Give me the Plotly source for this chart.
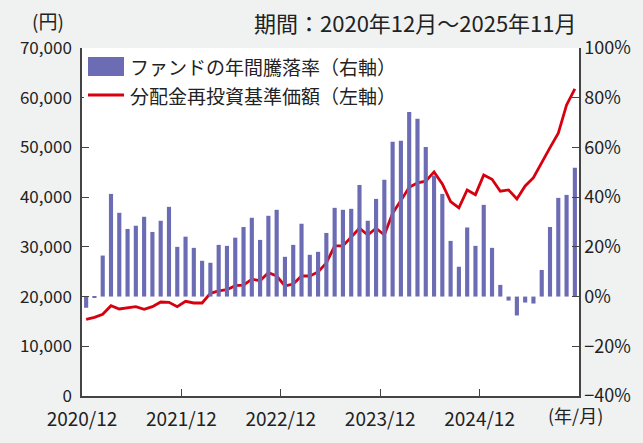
import plotly.graph_objects as go

# ---- data ----
months = list(range(60))  # 2020/12 .. 2025/11
returns_pct = [
    -4.5, -0.4, 16.5, 41.3, 33.7, 27.2, 28.5, 32.1, 26.0, 30.5,
    36.1, 20.0, 24.1, 19.6, 14.4, 13.6, 20.8, 20.4, 23.7, 28.0,
    31.7, 22.8, 32.5, 34.9, 16.0, 20.8, 29.3, 16.8, 18.0, 25.6,
    35.7, 34.9, 35.3, 44.9, 30.5, 39.3, 47.0, 62.3, 62.7, 74.3,
    71.5, 60.2, 48.7, 41.3, 22.4, 12.0, 27.8, 20.4, 36.9, 19.6,
    4.7, -1.6, -7.6, -2.4, -2.8, 10.7, 28.0, 39.7, 40.9, 51.8,
]
nav = [
    15430, 15830, 16440, 18170, 17500, 17770, 17970, 17440, 17970, 18910,
    18850, 17970, 19050, 18710, 18710, 20660, 21130, 21390, 22190, 22300,
    23500, 23200, 24810, 24140, 22130, 22530, 24140, 24140, 24950, 26760,
    30180, 30180, 31930, 33740, 32390, 33740, 32390, 36760, 39300, 41990,
    42860, 43200, 45070, 42660, 39100, 37830, 41450, 40500, 44470, 43600,
    41190, 41450, 39640, 42250, 43920, 47080, 49960, 52860, 58550, 61800,
]
x_tick_pos = [-0.5, 11.5, 23.5, 35.5, 47.5]
x_tick_text = ["2020/12", "2021/12", "2022/12", "2023/12", "2024/12"]
bar_name = "ファンドの年間騰落率（右軸）"
line_name = "分配金再投資基準価額（左軸）"

BAR_COLOR = "#6C6CB4"
LINE_COLOR = "#D7000F"
AXIS_COLOR = "#444444"
TEXT_COLOR = "#222222"
FONT = "Noto Sans CJK JP"

W, H = 643, 443
L, R, T, B = 82, 64, 48, 47
PW, PH = W - L - R, H - T - B

def px(x):
    return (x - L) / PW

def py(y):
    return (H - B - y) / PH

fig = go.Figure()
fig.add_trace(go.Bar(
    x=months, y=returns_pct, yaxis="y2", name=bar_name,
    marker=dict(color=BAR_COLOR, line=dict(width=0)), width=0.5,
    showlegend=False,
))
fig.add_trace(go.Scatter(
    x=months, y=nav, yaxis="y", name=line_name, mode="lines",
    line=dict(color=LINE_COLOR, width=2.8), showlegend=False,
))

def axis_common(size):
    return dict(
        showline=True, linecolor=AXIS_COLOR, linewidth=1.5,
        ticks="inside", ticklen=7, tickcolor=AXIS_COLOR, tickwidth=1.2,
        showgrid=False, zeroline=False, automargin=False,
        tickfont=dict(family=FONT, size=size, color=TEXT_COLOR),
    )

fig.update_layout(
    width=W, height=H,
    margin=dict(l=L, r=R, t=T, b=B),
    paper_bgcolor="#F0F2F2", plot_bgcolor="#FFFFFF",
    font=dict(family=FONT, color=TEXT_COLOR),
    bargap=0.5,
    xaxis=dict(
        range=[-0.5, 59.5], tickvals=x_tick_pos, ticktext=x_tick_text,
        ticklabelstandoff=5,
        **axis_common(19),
    ),
    yaxis=dict(
        range=[0, 70000], dtick=10000, tickformat=",", ticklabelstandoff=5,
        **axis_common(17),
    ),
    yaxis2=dict(
        range=[-40, 100], dtick=20, ticksuffix="%", overlaying="y", side="right",
        **axis_common(18),
    ),
)

# custom legend
shapes = [
    dict(type="rect", xref="paper", yref="paper", x0=px(84), x1=px(398), y0=py(113), y1=py(49),
         fillcolor="white", line=dict(width=0), layer="above"),
    dict(type="rect", xref="paper", yref="paper", x0=px(88), x1=px(124), y0=py(76), y1=py(57),
         fillcolor=BAR_COLOR, line=dict(width=0), layer="above"),
    dict(type="line", xref="paper", yref="paper", x0=px(88), x1=px(124), y0=py(95), y1=py(95),
         line=dict(color=LINE_COLOR, width=3), layer="above"),
]
fig.update_layout(shapes=shapes)

ann = [
    dict(text=bar_name, x=px(128), y=py(66), xanchor="left", yanchor="middle", size=19),
    dict(text=line_name, x=px(128), y=py(95), xanchor="left", yanchor="middle", size=19),
    dict(text="期間：2020年12月～2025年11月", x=px(579), y=py(22), xanchor="right", yanchor="middle", size=22),
    dict(text="(円)", x=px(48), y=py(21), xanchor="center", yanchor="middle", size=19),
    dict(text="(年/月)", x=px(575), y=py(415), xanchor="center", yanchor="middle", size=18),
]
for a in ann:
    fig.add_annotation(
        text=a["text"], x=a["x"], y=a["y"], xref="paper", yref="paper",
        xanchor=a["xanchor"], yanchor=a["yanchor"], showarrow=False,
        font=dict(family=FONT, size=a["size"], color=TEXT_COLOR),
    )

fig.write_html("out.html", config={"displayModeBar": False},
               post_script="document.body.style.margin='0';")
